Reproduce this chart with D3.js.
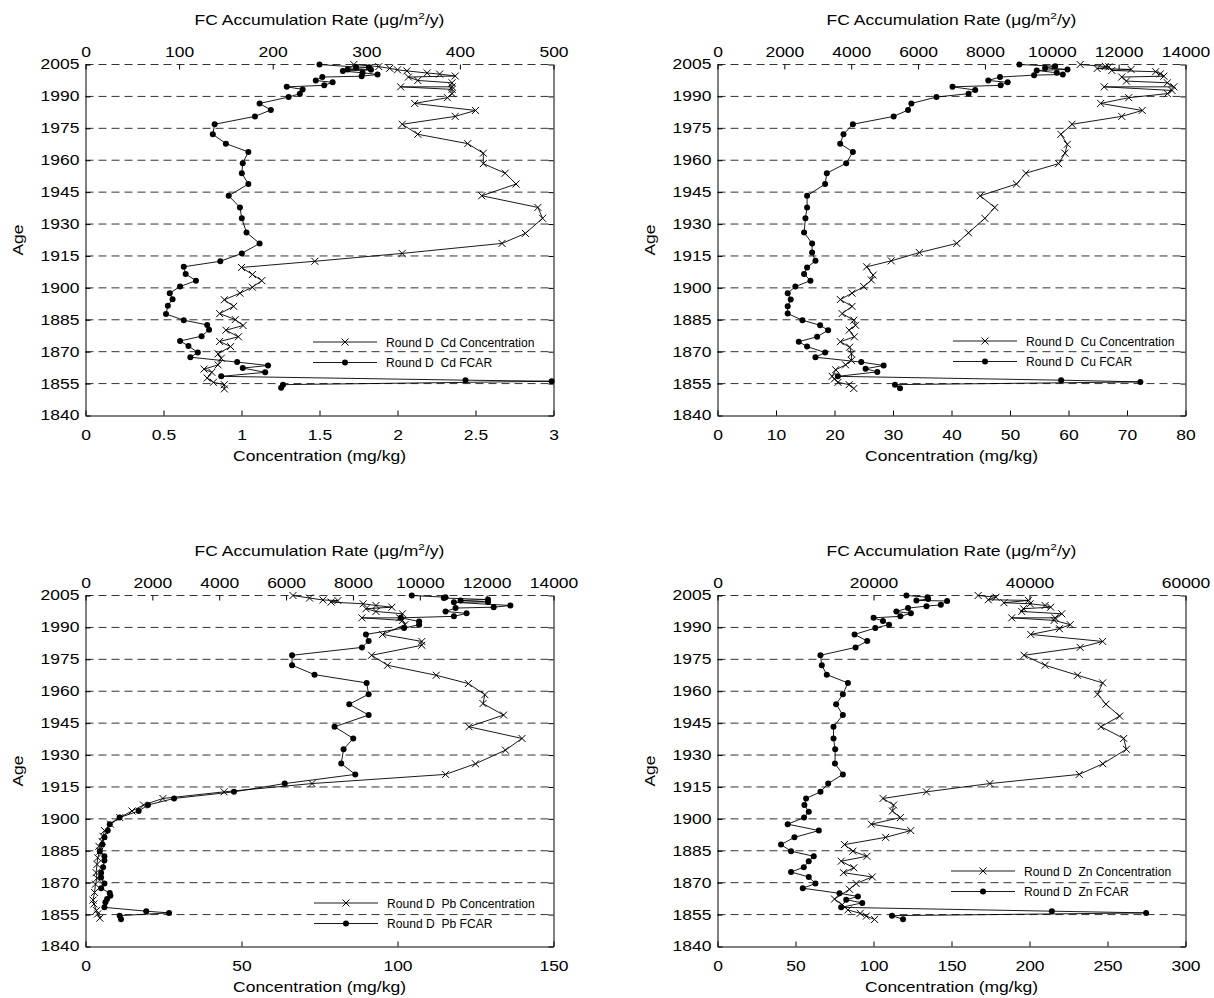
<!DOCTYPE html>
<html>
<head>
<meta charset="utf-8">
<script src="https://cdn.jsdelivr.net/npm/d3@7"></script>
<style>
  body { margin: 0; background: #fff; }
  svg { display: block; }
</style>
</head>
<body>
<svg id="chart" width="1214" height="998"></svg>
<script>
// ---- Age axis ----
const ageTicks = [1840, 1855, 1870, 1885, 1900, 1915, 1930, 1945, 1960, 1975, 1990, 2005];

// ---- Cd ----
const cdConcTicks = [0, 0.5, 1, 1.5, 2, 2.5, 3];
const cdFcarTicks = [0, 100, 200, 300, 400, 500];
const cdConcAge = [2005.0, 2004.0, 2003.2, 2002.5, 2002.0, 2001.0, 2000.5, 1999.6, 1999.1, 1997.5, 1996.4, 1994.5, 1994.5, 1993.3, 1991.3, 1989.4, 1986.7, 1983.4, 1980.6, 1976.9, 1972.2, 1967.8, 1963.3, 1958.4, 1953.9, 1948.8, 1943.3, 1937.8, 1932.7, 1925.6, 1920.9, 1916.2, 1912.5, 1909.6, 1906.3, 1903.4, 1900.3, 1897.5, 1894.4, 1891.3, 1887.9, 1885.1, 1882.3, 1880.1, 1877.0, 1874.8, 1872.4, 1869.0, 1866.9, 1863.8, 1861.8, 1860.3, 1857.6, 1855.6, 1854.5, 1852.5];
const cdConc = [1.72, 1.88, 1.95, 2.00, 2.06, 2.19, 2.27, 2.37, 2.07, 2.13, 2.35, 2.35, 2.02, 2.35, 2.35, 2.32, 2.11, 2.50, 2.37, 2.03, 2.13, 2.45, 2.55, 2.55, 2.69, 2.76, 2.54, 2.90, 2.93, 2.82, 2.67, 2.03, 1.47, 1.00, 1.07, 1.13, 1.07, 0.99, 0.89, 0.95, 0.86, 0.96, 1.01, 0.90, 0.98, 0.86, 0.93, 0.85, 0.87, 0.85, 0.76, 0.81, 0.78, 0.82, 0.89, 0.89];
const cdFcarAge = [2005.0, 2003.8, 2003.7, 2002.7, 2002.5, 2001.9, 2001.1, 2000.3, 1999.5, 1999.1, 1997.5, 1996.6, 1995.2, 1994.5, 1993.3, 1991.3, 1989.7, 1986.7, 1983.6, 1980.6, 1976.9, 1972.2, 1967.8, 1963.9, 1958.6, 1953.9, 1948.8, 1943.3, 1937.8, 1932.7, 1926.0, 1920.9, 1916.2, 1912.5, 1909.9, 1906.5, 1903.4, 1900.6, 1897.5, 1894.7, 1891.6, 1887.7, 1884.8, 1882.6, 1880.3, 1877.3, 1875.0, 1872.7, 1869.6, 1867.4, 1865.1, 1863.5, 1862.3, 1860.3, 1858.4, 1856.6, 1856.1, 1854.5, 1853.0];
const cdFcar = [250, 289, 303, 280, 305, 275, 296, 312, 295, 253, 246, 264, 255, 215, 232, 229, 217, 186, 198, 181, 138, 136, 150, 174, 168, 167, 174, 153, 165, 167, 172, 186, 167, 144, 105, 107, 118, 101, 90, 93, 88, 86, 105, 130, 132, 124, 101, 110, 120, 112, 162, 195, 168, 192, 145, 406, 498, 211, 209];

// ---- Cu ----
const cuConcTicks = [0, 10, 20, 30, 40, 50, 60, 70, 80];
const cuFcarTicks = [0, 2000, 4000, 6000, 8000, 10000, 12000, 14000];
const cuConcAge = [2005.0, 2004.1, 2003.9, 2003.1, 2002.7, 2002.2, 2001.6, 2000.6, 1999.5, 1999.1, 1997.2, 1996.4, 1994.5, 1994.5, 1992.8, 1991.3, 1989.4, 1986.7, 1983.4, 1980.6, 1976.9, 1972.2, 1967.5, 1963.3, 1958.4, 1953.9, 1948.8, 1943.3, 1937.8, 1932.7, 1925.9, 1920.9, 1916.6, 1912.7, 1909.9, 1906.0, 1903.7, 1900.6, 1897.5, 1894.5, 1891.3, 1887.9, 1884.8, 1882.4, 1880.1, 1877.0, 1874.7, 1872.1, 1869.0, 1865.9, 1863.8, 1861.5, 1858.4, 1857.2, 1855.6, 1854.5, 1852.7];
const cuConc = [62.0, 66.3, 66.9, 64.9, 70.7, 67.4, 74.9, 75.7, 76.3, 69.1, 69.9, 76.9, 78.0, 66.1, 77.7, 76.9, 70.3, 65.5, 72.6, 69.1, 60.6, 58.7, 59.8, 59.4, 58.3, 52.7, 51.1, 44.9, 47.4, 45.7, 42.9, 40.9, 34.5, 29.7, 25.5, 26.6, 26.3, 25.0, 23.0, 21.0, 23.0, 21.3, 23.3, 23.6, 22.5, 23.4, 21.0, 22.6, 22.9, 22.9, 21.9, 20.2, 19.6, 20.0, 20.6, 22.5, 23.3];
const cuFcarAge = [2005.0, 2004.2, 2003.4, 2002.7, 2002.2, 2001.1, 2000.3, 2000.0, 1999.1, 1997.5, 1996.6, 1995.2, 1994.5, 1993.0, 1991.3, 1989.7, 1986.7, 1983.6, 1980.6, 1976.9, 1972.2, 1967.8, 1963.9, 1958.6, 1953.9, 1948.8, 1943.3, 1937.8, 1932.7, 1926.0, 1920.9, 1916.6, 1912.7, 1909.6, 1906.5, 1903.4, 1900.6, 1897.5, 1894.5, 1891.3, 1887.9, 1884.8, 1882.4, 1880.1, 1877.0, 1874.7, 1872.4, 1869.6, 1867.4, 1865.1, 1863.5, 1862.0, 1860.5, 1858.4, 1856.6, 1855.8, 1854.5, 1852.8];
const cuFcar = [9030, 10100, 9800, 10470, 9550, 10150, 10330, 9470, 8450, 8100, 8680, 8470, 7030, 7710, 7510, 6550, 5800, 5700, 5270, 4050, 3770, 3670, 4050, 3850, 3270, 3220, 2680, 2680, 2630, 2590, 2830, 2830, 2930, 2680, 2590, 2780, 2330, 2100, 2190, 2100, 2100, 2540, 3070, 3310, 2980, 2430, 2680, 3220, 2930, 4300, 4970, 4430, 4780, 3600, 10280, 12650, 5310, 5460];

// ---- Pb ----
const pbConcTicks = [0, 50, 100, 150];
const pbFcarTicks = [0, 2000, 4000, 6000, 8000, 10000, 12000, 14000];
const pbConcAge = [2005.0, 2003.8, 2002.9, 2002.6, 2001.9, 2001.1, 2000.3, 1999.5, 1998.8, 1997.5, 1996.4, 1994.5, 1994.5, 1993.3, 1991.3, 1986.7, 1983.4, 1981.6, 1976.9, 1972.2, 1967.5, 1963.6, 1958.4, 1954.2, 1948.8, 1943.3, 1937.8, 1932.3, 1925.9, 1920.9, 1916.6, 1912.7, 1909.6, 1906.5, 1903.7, 1900.6, 1897.5, 1894.5, 1891.8, 1889.4, 1887.1, 1884.8, 1881.7, 1878.6, 1874.7, 1872.1, 1869.3, 1865.4, 1861.8, 1860.0, 1856.9, 1855.3, 1853.3];
const pbConc = [66.5, 71.8, 76.1, 80.9, 78.7, 89.0, 93.1, 98.2, 89.9, 93.1, 101.6, 100.7, 88.6, 101.6, 102.4, 95.2, 107.8, 107.8, 91.7, 96.8, 112.4, 122.7, 128.0, 127.4, 134.0, 122.9, 139.9, 134.6, 125.0, 115.4, 72.6, 44.4, 24.8, 18.6, 14.9, 11.0, 8.0, 6.1, 5.6, 5.3, 4.3, 4.6, 3.9, 3.7, 3.4, 3.7, 3.2, 2.9, 2.4, 2.7, 3.5, 3.9, 4.6];
const pbFcarAge = [2005.0, 2004.2, 2003.8, 2003.1, 2002.7, 2002.0, 2001.8, 2000.3, 1999.5, 1999.1, 1997.5, 1996.6, 1995.2, 1994.5, 1992.8, 1991.3, 1989.7, 1986.7, 1983.6, 1980.6, 1976.9, 1972.2, 1967.8, 1963.9, 1958.6, 1953.9, 1948.8, 1943.3, 1937.8, 1932.7, 1926.0, 1920.9, 1916.6, 1912.7, 1909.6, 1906.5, 1903.7, 1900.6, 1897.5, 1894.5, 1891.3, 1887.9, 1884.8, 1882.4, 1880.4, 1877.3, 1874.7, 1872.4, 1869.6, 1867.4, 1865.1, 1863.9, 1862.3, 1860.8, 1858.4, 1856.6, 1855.8, 1854.5, 1852.8];
const pbFcar = [9760, 10770, 10720, 12040, 11220, 12040, 11020, 12710, 12210, 11070, 10770, 11400, 11020, 9430, 9980, 9980, 9530, 8390, 8470, 8270, 6180, 6180, 6850, 8410, 8470, 7890, 8470, 7450, 8010, 7720, 7650, 8070, 5960, 4440, 2650, 1870, 1590, 1020, 725, 665, 566, 506, 427, 566, 566, 526, 467, 467, 566, 467, 725, 745, 645, 596, 566, 1817, 2500, 1023, 1062];

// ---- Zn ----
const znConcTicks = [0, 50, 100, 150, 200, 250, 300];
const znFcarTicks = [0, 20000, 40000, 60000];
const znConcAge = [2005.0, 2004.2, 2003.0, 2002.7, 2001.6, 2001.1, 2000.3, 1999.5, 1998.8, 1997.5, 1996.4, 1994.5, 1994.5, 1993.3, 1991.3, 1989.4, 1986.7, 1983.4, 1980.6, 1976.9, 1972.2, 1967.5, 1963.9, 1958.6, 1953.9, 1948.3, 1943.3, 1937.8, 1932.7, 1925.9, 1920.9, 1916.6, 1912.7, 1909.6, 1906.5, 1903.7, 1900.6, 1897.5, 1894.5, 1891.3, 1887.9, 1884.8, 1882.4, 1880.1, 1877.0, 1874.7, 1872.7, 1869.6, 1866.9, 1862.3, 1859.6, 1857.2, 1855.6, 1854.3, 1852.7];
const znConc = [167.1, 178.5, 173.6, 199.3, 183.6, 200.4, 210.0, 213.6, 196.1, 195.0, 220.7, 216.4, 188.6, 215.8, 226.1, 219.2, 200.8, 246.9, 232.5, 196.5, 210.0, 230.8, 246.9, 243.6, 249.0, 257.8, 245.8, 260.4, 262.1, 247.0, 231.9, 174.6, 133.9, 106.1, 112.9, 112.1, 117.2, 98.6, 123.9, 107.8, 81.4, 86.8, 95.8, 79.3, 87.4, 80.8, 99.2, 88.9, 84.6, 75.0, 79.9, 83.6, 91.5, 95.4, 100.7];
const znFcarAge = [2005.0, 2004.2, 2003.3, 2002.7, 2002.4, 2000.6, 2000.0, 1999.1, 1997.5, 1996.6, 1995.2, 1994.5, 1993.0, 1991.3, 1989.7, 1986.7, 1983.6, 1980.6, 1976.9, 1972.2, 1967.8, 1963.9, 1958.6, 1953.9, 1948.8, 1943.3, 1937.8, 1932.7, 1926.0, 1920.9, 1916.6, 1912.7, 1909.6, 1906.5, 1903.4, 1900.6, 1897.5, 1894.5, 1891.3, 1887.9, 1884.8, 1882.4, 1880.1, 1877.3, 1875.0, 1872.7, 1869.6, 1867.4, 1865.0, 1863.5, 1862.0, 1860.5, 1858.4, 1856.6, 1855.8, 1854.5, 1852.8];
const znFcar = [24220, 26920, 27000, 25500, 29440, 28630, 26790, 24430, 22930, 24790, 23440, 20010, 21210, 21990, 20230, 17570, 19200, 17700, 13200, 13370, 14010, 16720, 16070, 15210, 16070, 14870, 14870, 15090, 15060, 16070, 14190, 13200, 11360, 11140, 11700, 11100, 9000, 12990, 9860, 8140, 9430, 12340, 11700, 11060, 9430, 11700, 12560, 10930, 15640, 18000, 16500, 18560, 15860, 42860, 54950, 22370, 23790];

// ---- layout of the four panels ----
const panels = [
  { el: 'Cd', left: 85.5, right: 553.5, top: 64.5, bottom: 415.5,
    concMax: 3, concTicks: cdConcTicks, fcarMax: 500, fcarTicks: cdFcarTicks,
    concAge: cdConcAge, conc: cdConc, fcarAge: cdFcarAge, fcar: cdFcar, legend: [313, 342] },
  { el: 'Cu', left: 717.5, right: 1185.5, top: 64.5, bottom: 415.5,
    concMax: 80, concTicks: cuConcTicks, fcarMax: 14000, fcarTicks: cuFcarTicks,
    concAge: cuConcAge, conc: cuConc, fcarAge: cuFcarAge, fcar: cuFcar, legend: [953, 341] },
  { el: 'Pb', left: 85.5, right: 553.5, top: 595.5, bottom: 946.5,
    concMax: 150, concTicks: pbConcTicks, fcarMax: 14000, fcarTicks: pbFcarTicks,
    concAge: pbConcAge, conc: pbConc, fcarAge: pbFcarAge, fcar: pbFcar, legend: [314, 903] },
  { el: 'Zn', left: 717.5, right: 1185.5, top: 595.5, bottom: 946.5,
    concMax: 300, concTicks: znConcTicks, fcarMax: 60000, fcarTicks: znFcarTicks,
    concAge: znConcAge, conc: znConc, fcarAge: znFcarAge, fcar: znFcar, legend: [951, 871] }
];

const FONT = '"Liberation Sans", Arial, Helvetica, sans-serif';
const SX = 1.25;          // horizontal stretch of axis lettering
const svg = d3.select('#chart');
const crossPath = 'M-3.5,-3.5L3.5,3.5M-3.5,3.5L3.5,-3.5';

function stretch(sel, sx) {
  sel.each(function () {
    const t = d3.select(this);
    const x = +t.attr('x') || 0;
    t.attr('x', x / sx).attr('transform', `scale(${sx},1)`);
  });
}

function styleAxis(g) {
  g.attr('font-family', FONT).attr('font-size', 14);
  g.selectAll('line').attr('stroke', '#000');
  g.selectAll('.domain').attr('stroke', '#000');
  g.selectAll('text').attr('fill', '#000');
}

panels.forEach(p => {
  const y = d3.scaleLinear().domain([1840, 2005]).range([p.bottom, p.top]);
  const xc = d3.scaleLinear().domain([0, p.concMax]).range([p.left, p.right]);
  const xf = d3.scaleLinear().domain([0, p.fcarMax]).range([p.left, p.right]);
  const g = svg.append('g');

  // dashed horizontal age lines
  g.append('g').selectAll('line')
    .data(ageTicks.filter(d => d > 1840))
    .join('line')
    .attr('x1', p.left).attr('x2', p.right)
    .attr('y1', d => y(d)).attr('y2', d => y(d))
    .attr('stroke', '#333').attr('stroke-width', 1)
    .attr('stroke-dasharray', '8,5');

  // concentration profile (crosses)
  const concPts = p.concAge.map((a, i) => [xc(p.conc[i]), y(a)]);
  g.append('path').attr('d', d3.line()(concPts))
    .attr('fill', 'none').attr('stroke', '#000').attr('stroke-width', 0.9);
  g.append('g').selectAll('path').data(concPts).join('path')
    .attr('transform', d => `translate(${d[0]},${d[1]})`)
    .attr('d', crossPath).attr('stroke', '#000').attr('stroke-width', 1).attr('fill', 'none');

  // FCAR profile (dots)
  const fcarPts = p.fcarAge.map((a, i) => [xf(p.fcar[i]), y(a)]);
  g.append('path').attr('d', d3.line()(fcarPts))
    .attr('fill', 'none').attr('stroke', '#000').attr('stroke-width', 0.9);
  g.append('g').selectAll('circle').data(fcarPts).join('circle')
    .attr('cx', d => d[0]).attr('cy', d => d[1]).attr('r', 3)
    .attr('fill', '#000');

  // bottom axis: concentration
  const ab = g.append('g').attr('transform', `translate(0,${p.bottom})`)
    .call(d3.axisBottom(xc).tickValues(p.concTicks).tickFormat(d => String(d))
      .tickSizeInner(-5).tickSizeOuter(0).tickPadding(15));
  styleAxis(ab); stretch(ab.selectAll('text'), SX);

  // top axis: accumulation rate
  const at = g.append('g').attr('transform', `translate(0,${p.top})`)
    .call(d3.axisTop(xf).tickValues(p.fcarTicks).tickFormat(d => String(d))
      .tickSizeInner(-5).tickSizeOuter(0).tickPadding(8));
  at.select('.domain').remove();
  styleAxis(at); stretch(at.selectAll('text'), SX);

  // left axis: age
  const al = g.append('g').attr('transform', `translate(${p.left},0)`)
    .call(d3.axisLeft(y).tickValues(ageTicks).tickFormat(d3.format('d'))
      .tickSizeInner(-5).tickSizeOuter(0).tickPadding(6));
  styleAxis(al); stretch(al.selectAll('text'), SX);

  // right edge with inward ticks
  const ar = g.append('g').attr('transform', `translate(${p.right},0)`)
    .call(d3.axisRight(y).tickValues(ageTicks).tickFormat('')
      .tickSizeInner(-5).tickSizeOuter(0));
  ar.selectAll('text').remove();
  styleAxis(ar);

  const cx = (p.left + p.right) / 2;

  // top title
  const tt = g.append('text')
    .attr('transform', `translate(${cx},${p.top - 40}) scale(${SX},1)`)
    .attr('text-anchor', 'middle').attr('font-family', FONT).attr('font-size', 14).attr('fill', '#000');
  tt.append('tspan').text('FC Accumulation Rate (');
  tt.append('tspan').text('μ');
  tt.append('tspan').text('g/m');
  tt.append('tspan').attr('font-size', 9.5).attr('dy', -6).text('2');
  tt.append('tspan').attr('dy', 6).text('/y)');

  // bottom title
  g.append('text')
    .attr('transform', `translate(${cx},${p.bottom + 45}) scale(${SX},1)`)
    .attr('text-anchor', 'middle').attr('font-family', FONT).attr('font-size', 14).attr('fill', '#000')
    .text('Concentration (mg/kg)');

  // age label
  g.append('text')
    .attr('transform', `translate(${p.left - 63},${(p.top + p.bottom) / 2}) rotate(-90) scale(${SX},1)`)
    .attr('text-anchor', 'middle').attr('font-family', FONT).attr('font-size', 14).attr('fill', '#000')
    .text('Age');

  // legend
  const [lx, ly] = p.legend;
  const lg = g.append('g').attr('font-family', FONT).attr('font-size', 13);
  const rows = [
    { label: `Round D  ${p.el} Concentration`, kind: 'cross' },
    { label: `Round D  ${p.el} FCAR`, kind: 'dot' }
  ];
  rows.forEach((r, i) => {
    const yy = ly + i * 20.5;
    lg.append('line').attr('x1', lx).attr('x2', lx + 64).attr('y1', yy).attr('y2', yy)
      .attr('stroke', '#000').attr('stroke-width', 0.9);
    if (r.kind === 'cross') {
      lg.append('path').attr('transform', `translate(${lx + 32},${yy})`).attr('d', crossPath)
        .attr('stroke', '#000').attr('fill', 'none');
    } else {
      lg.append('circle').attr('cx', lx + 32).attr('cy', yy).attr('r', 3).attr('fill', '#000');
    }
    lg.append('text')
      .attr('transform', `translate(${lx + 73},${yy}) scale(0.93,1)`)
      .attr('dy', '0.35em').attr('fill', '#000').style('white-space', 'pre')
      .text(r.label);
  });
});
</script>
</body>
</html>
